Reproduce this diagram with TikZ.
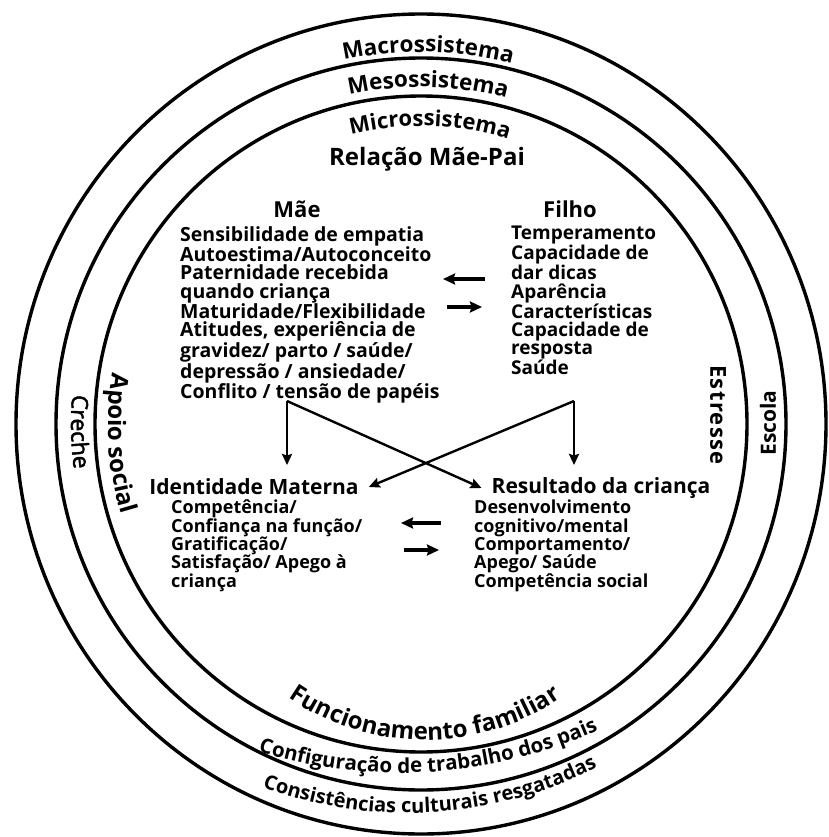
\documentclass[tikz,border=0pt]{standalone}
\usepackage{fontspec}
\setmainfont{Open Sans}
\newfontfamily\crechefont{Open Sans}[FakeBold=2]
\usetikzlibrary{decorations.text,arrows.meta}

\tikzset{
  ring/.style={line width=3.4pt},
  blockbf/.style={anchor=north west, align=left, inner sep=0pt,
    font=\bfseries\fontsize{19.5}{18.3}\selectfont},
  blocklow/.style={anchor=north west, align=left, inner sep=0pt,
    font=\bfseries\fontsize{18}{18.3}\selectfont},
  heading/.style={inner sep=0pt, font=\bfseries\fontsize{22}{22}\selectfont},
  sidelabel/.style={inner sep=0pt, font=\bfseries\fontsize{21}{21}\selectfont},
  link/.style={line width=2.4pt, -{Stealth[length=11pt,width=10pt,inset=1.5pt]}},
  swap/.style={line width=3.2pt, -{Stealth[length=12pt,width=11pt,inset=1.5pt]}},
}

\begin{document}
\begin{tikzpicture}[x=1pt,y=1pt]
\useasboundingbox (0,0) rectangle (828,-837);
\fill[white] (0,0) rectangle (828,-837);

% the three nested systems
\coordinate (C) at (421,-424);
\draw[ring] (C) ellipse [x radius=405pt, y radius=410pt];
\draw[ring] (C) ellipse [x radius=365pt, y radius=366pt];
\draw[ring] (C) ellipse [x radius=326pt, y radius=328pt];

% curved ring names, top
\path[decorate, decoration={text along path, text align=center,
  text={|\bfseries\fontsize{22.5}{22.5}\selectfont|Macrossistema}}]
  (C) ++(118.9:372pt) arc[start angle=118.9, end angle=58.9, radius=372pt];
\path[decorate, decoration={text along path, text align=center,
  text={|\bfseries\fontsize{22.5}{22.5}\selectfont|Mesossistema}}]
  (C) ++(118.8:337pt) arc[start angle=118.8, end angle=58.8, radius=337pt];
\path[decorate, decoration={text along path, text align=center,
  text={|\bfseries\fontsize{22}{22}\selectfont|Microssistema}}]
  (C) ++(118.3:298pt) arc[start angle=118.3, end angle=58.3, radius=298pt];

% curved ring names, bottom (each on its own, tighter arc)
\coordinate (Cf) at (425,-500);
\coordinate (Cw) at (400,-293);
\coordinate (Cc) at (407,-393);
\path[decorate, decoration={text along path, text align=center,
  text={|\bfseries\fontsize{24}{24}\selectfont|Funcionamento familiar}}]
  (Cf) ++(225:240pt) arc[start angle=225, end angle=315, radius=240pt];
\path[decorate, decoration={text along path, text align=center,
  text={|\bfseries\fontsize{20.5}{20.5}\selectfont|Configuração de trabalho dos pais}}]
  (Cw) ++(243.6:480pt) arc[start angle=243.6, end angle=303.6, radius=480pt];
\path[decorate, decoration={text along path, text align=center,
  text={|\bfseries\fontsize{20}{20}\selectfont|Consistências culturais resgatadas}}]
  (Cc) ++(240.4:420pt) arc[start angle=240.4, end angle=306.4, radius=420pt];

% curved ring names, left
\path[decorate, decoration={text along path, text align=center,
  text={|\bfseries\fontsize{24}{24}\selectfont|Apoio social}}]
  (C) ++(162.7:313pt) arc[start angle=162.7, end angle=204.7, radius=313pt];
\path[decorate, decoration={text along path, text align=center,
  text={|\crechefont\fontsize{23}{23}\selectfont|Creche}}]
  (C) ++(171.3:350pt) arc[start angle=171.3, end angle=191.3, radius=350pt];

% right side names
\node[sidelabel, rotate=-90, font=\bfseries\fontsize{22}{22}\selectfont\addfontfeature{LetterSpace=6}] (estresse) at (718,-415) {Estresse};
\node[sidelabel, rotate=90] (escola) at (768,-423) {Escola};

% headings
\node[heading, font=\bfseries\fontsize{24}{24}\selectfont] (rel) at (427,-159) {Relação Mãe-Pai};
\node[heading] (mae) at (297,-209) {Mãe};
\node[heading] (filho) at (570,-209) {Filho};
\node[heading, font=\bfseries\fontsize{21}{21}\selectfont] (idm) at (254,-487) {Identidade Materna};
\node[heading, font=\bfseries\fontsize{21}{21}\selectfont] (res) at (601,-488) {Resultado da criança};

% attribute lists
\node[blockbf] (maebody) at (180,-226) {Sensibilidade de empatia\\
Autoestima/Autoconceito\\
Paternidade recebida\\
quando criança\\
Maturidade/Flexibilidade\\
Atitudes, experiência de\\
gravidez/ parto / saúde/\\
depressão / ansiedade/\\
Conflito / tensão de papéis};
\node[blockbf, font=\bfseries\fontsize{19}{18.3}\selectfont] (filhobody) at (511,-226) {Temperamento\\
Capacidade de\\
dar dicas\\
Aparência\\
Características\\
Capacidade de\\
resposta\\
Saúde};
\node[blocklow] (idmbody) at (171,-500) {Competência/\\
Confiança na função/\\
Gratificação/\\
Satisfação/ Apego à\\
criança};
\node[blocklow] (resbody) at (474,-500) {Desenvolvimento\\
cognitivo/mental\\
Comportamento/\\
Apego/ Saúde\\
Competência social};

% mutual influence arrows
\coordinate (t1a) at (485,-279); \coordinate (t1b) at (443,-279);
\coordinate (t2a) at (447,-307); \coordinate (t2b) at (482,-307);
\coordinate (b1a) at (441,-523); \coordinate (b1b) at (401,-523);
\coordinate (b2a) at (404,-550); \coordinate (b2b) at (439,-550);
\draw[swap] (t1a) -- (t1b);
\draw[swap] (t2a) -- (t2b);
\draw[swap] (b1a) -- (b1b);
\draw[swap] (b2a) -- (b2b);

% outcome links
\coordinate (mv) at (287,-401);
\coordinate (fv) at (574,-401);
\coordinate (mdown) at (287,-465);
\coordinate (fdown) at (574,-465);
\draw[link] (mv) -- (mdown);
\draw[link] (fv) -- (fdown);
\draw[link] (mv) -- ([xshift=-10pt]res.west);
\draw[link] (fv) -- ([xshift=10pt]idm.east);
\end{tikzpicture}
\end{document}
